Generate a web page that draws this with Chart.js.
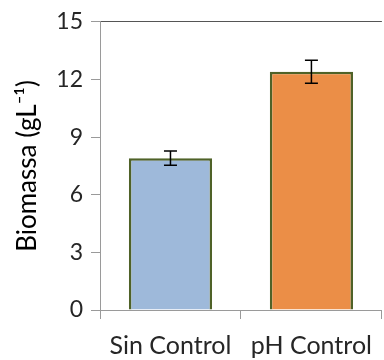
<!DOCTYPE html>
<html>
<head>
<meta charset="utf-8">
<script src="https://cdn.jsdelivr.net/npm/chart.js@4"></script>
<style>
  html, body { margin: 0; padding: 0; background: #fff; }
  #wrap { width: 384px; height: 360px; }
</style>
</head>
<body>
<div id="wrap"><canvas id="myChart"></canvas></div>
<script>
"use strict";

const categories = ["Sin Control", "pH Control"];
const biomass = [7.9, 12.4];
const errors = [0.37, 0.6];
const yTicks = [0, 3, 6, 9, 12, 15];

// draws the little I-shaped error bars on top of each bar
const errorBars = {
  id: "errorBars",
  afterDatasetsDraw(chart) {
    const ctx = chart.ctx;
    const y = chart.scales.y;
    const meta = chart.getDatasetMeta(0);
    ctx.save();
    ctx.strokeStyle = "#000";
    ctx.lineWidth = 1.5;
    meta.data.forEach((bar, i) => {
      const top = y.getPixelForValue(biomass[i] + errors[i]);
      const bottom = y.getPixelForValue(biomass[i] - errors[i]);
      ctx.beginPath();
      ctx.moveTo(bar.x, top);
      ctx.lineTo(bar.x, bottom);
      ctx.moveTo(bar.x - 6.5, top);
      ctx.lineTo(bar.x + 6.5, top);
      ctx.moveTo(bar.x - 6.5, bottom);
      ctx.lineTo(bar.x + 6.5, bottom);
      ctx.stroke();
    });
    ctx.restore();
  },
};

const ctx = document.getElementById("myChart");
const myChart = new Chart(ctx, {
  type: "bar",
  data: {
    labels: categories,
    datasets: [
      {
        data: biomass,
        backgroundColor: ["#9eb9da", "#eb8e47"],
        borderColor: "#4f6228",
        borderWidth: 2.5,
        barPercentage: 0.59,
        categoryPercentage: 1,
      },
    ],
  },
  options: {
    responsive: true,
    maintainAspectRatio: false,
    animation: false,
    layout: { padding: { top: 20, right: 0, left: 0, bottom: 0 } },
    plugins: {
      legend: { display: false },
      tooltip: { enabled: false },
    },
    scales: {
      x: {
        grid: {
          color: "rgba(0,0,0,0)",
          tickColor: "#9a9a9a",
          tickLength: 9,
          offset: true,
        },
        border: { color: "#9a9a9a", width: 1 },
        ticks: {
          color: "#262626",
          font: { family: "Lato", size: 25 },
          padding: 12,
        },
        afterFit(scale) {
          scale.height = 50;
        },
      },
      y: {
        min: 0,
        max: 15,
        afterBuildTicks(scale) {
          scale.ticks = yTicks.map((v) => ({ value: v }));
        },
        grid: {
          color: (c) => (c.tick && c.tick.value === 15 ? "#555" : "rgba(0,0,0,0)"),
          tickColor: "#9a9a9a",
          tickLength: 9,
        },
        border: { color: "#9a9a9a", width: 1 },
        ticks: {
          color: "#262626",
          font: { family: "Lato", size: 23 },
          padding: 8,
        },
        title: {
          display: true,
          text: "Biomassa (gL\u207B\u00B9)",
          color: "#000",
          font: { family: "Lato", size: 26 },
          padding: { top: 12, bottom: 4 },
        },
        afterFit(scale) {
          scale.width = 100;
        },
      },
    },
  },
  plugins: [errorBars],
});
</script>
</body>
</html>
